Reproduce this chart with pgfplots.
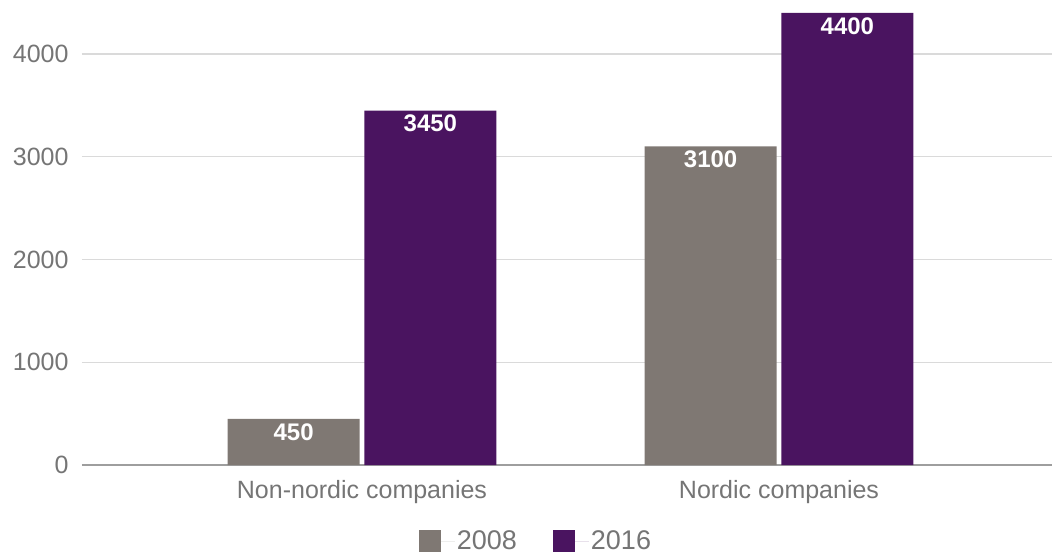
\documentclass[border=0pt]{standalone}
\usepackage{pgfplots}
\pgfplotsset{compat=1.18}
\usepackage{fontspec}
\setmainfont{Liberation Sans}
\definecolor{barA}{HTML}{7F7873}
\definecolor{barB}{HTML}{4A1460}
\definecolor{tickc}{HTML}{757575}
\definecolor{gridc}{HTML}{DADADA}
\definecolor{axisc}{HTML}{9E9E9E}
\begin{document}
\begin{tikzpicture}
\path[use as bounding box] (0,0) rectangle (1052pt,558pt);
\begin{axis}[
  at={(82pt,93pt)}, anchor=south west,
  scale only axis, width=970pt, height=453pt,
  xmin=-0.6715, xmax=1.6547, ymin=0, ymax=4409,
  ybar, bar width=0.317,
  xtick={0,1}, xticklabels={Non-nordic companies, Nordic companies},
  ytick={0,1000,2000,3000,4000},
  ymajorgrids, grid style={gridc, line width=1.2pt},
  axis x line*=bottom, axis y line*=left,
  y axis line style={draw=none},
  x axis line style={axisc, line width=2pt, -},
  major tick length=0pt,
  tick label style={font=\fontsize{25}{28}\selectfont, text=tickc},
  yticklabel style={xshift=-10pt},
  xticklabel style={yshift=-12pt},
  /pgf/number format/assume math mode=true,
  /pgf/number format/1000 sep={},
  nodes near coords,
  every node near coord/.append style={font=\bfseries\fontsize{24}{27}\selectfont, text=white, anchor=center, yshift=-13pt},
  legend columns=2,
  legend style={draw=none, at={(0.468,-0.168)}, anchor=center, font=\fontsize{27}{30}\selectfont, text=tickc, /tikz/every even column/.append style={column sep=34pt}},
  legend image code/.code={\fill[#1] (0pt,-11pt) rectangle (22pt,11pt); \path (22pt,0pt) -- (36pt,0pt);},
]
\addplot[fill=barA, draw=none, bar shift=-0.164] coordinates {(0,450) (1,3100)};
\addplot[fill=barB, draw=none, bar shift=0.164] coordinates {(0,3450) (1,4400)};
\legend{2008, 2016}
\end{axis}
\end{tikzpicture}
\end{document}
